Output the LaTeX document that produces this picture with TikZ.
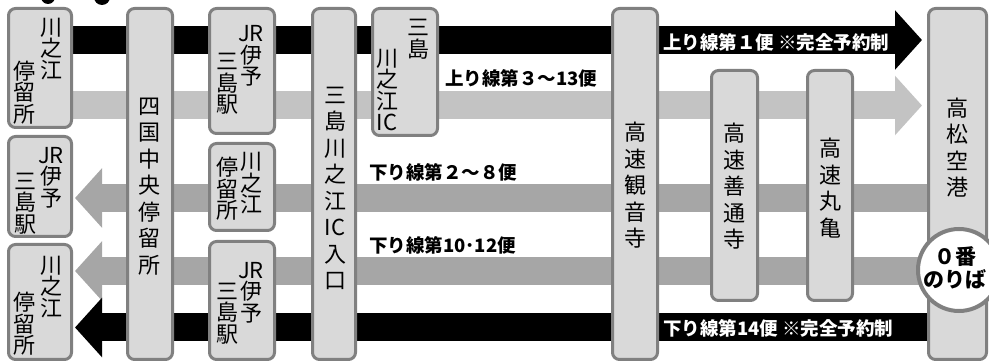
\documentclass[tikz,border=0pt]{standalone}
\usepackage{fontspec}
\newfontfamily\jp{Noto Sans CJK JP}
\usetikzlibrary{arrows.meta,backgrounds}
\definecolor{boxfill}{HTML}{D9D9D9}
\definecolor{boxline}{HTML}{808080}
\definecolor{lightband}{HTML}{C3C3C3}
\definecolor{darkband}{HTML}{A6A6A6}
\tikzset{
  stop/.style={draw=boxline, fill=boxfill, line width=3pt, rounded corners=7pt, inner sep=0pt},
  tate/.style={inner sep=0pt, align=center, font=\jp\fontsize{22}{21.5}\selectfont},
  tatewide/.style={inner sep=0pt, align=center, font=\jp\fontsize{22}{26.5}\selectfont},
  band/.style={line width=28pt, -{Triangle[length=27pt,width=58pt]}},
  lab/.style={inner sep=0pt, anchor=west, font=\jp\bfseries\fontsize{18.5}{18.5}\selectfont},
}
\begin{document}
\begin{tikzpicture}[x=1pt,y=-1pt]
   \useasboundingbox (0,0) rectangle (989,363);
   % cut off by the top edge
   \fill (48,-3) circle (7pt);
   \fill (102,-3) circle (8pt);

   % stops
   \node[stop, minimum width=63, minimum height=119] (kawanoeA) at (40,68) {};
   \node[stop, minimum width=63, minimum height=100] (mishimaA) at (40,186.5) {};
   \node[stop, minimum width=63, minimum height=115] (kawanoeB) at (40,302) {};
   \node[stop, minimum width=45, minimum height=351] (shikoku) at (150,184) {};
   \node[stop, minimum width=65, minimum height=125] (mishimaB) at (242,71) {};
   \node[stop, minimum width=65, minimum height=87] (kawanoeC) at (242,187) {};
   \node[stop, minimum width=65, minimum height=118] (mishimaC) at (242,300.5) {};
   \node[stop, minimum width=43, minimum height=351] (iriguchi) at (334,184) {};
   \node[stop, minimum width=65, minimum height=127] (mishimaIC) at (405,72) {};
   \node[stop, minimum width=45, minimum height=351] (kannonji) at (635,184) {};
   \node[stop, minimum width=46, minimum height=230] (zentsuji) at (734.5,185.5) {};
   \node[stop, minimum width=45, minimum height=230] (marugame) at (830,185.5) {};
   \node[stop, minimum width=58, minimum height=351] (airport) at (957.5,184) {};

   \node[tate] (kawanoeAr) at (51,49) {川\\之\\江};
   \node[tate] (kawanoeAl) at (24,92.5) {停\\留\\所};
   \node[tate] (mishimaAr) at (51,177.5) {JR\\伊\\予};
   \node[tate] (mishimaAl) at (25,203.5) {三\\島\\駅};
   \node[tate] (kawanoeBr) at (52,287) {川\\之\\江};
   \node[tate] (kawanoeBl) at (24,324) {停\\留\\所};
   \node[tatewide] (shikokut) at (149,186.5) {四\\国\\中\\央\\停\\留\\所};
   \node[tate] (mishimaBr) at (251,56) {JR\\伊\\予};
   \node[tate] (mishimaBl) at (227,84) {三\\島\\駅};
   \node[tate] (kawanoeCr) at (251,183.5) {川\\之\\江};
   \node[tate] (kawanoeCl) at (227,189) {停\\留\\所};
   \node[tate] (mishimaCr) at (251,292.5) {JR\\伊\\予};
   \node[tate] (mishimaCl) at (227,313.5) {三\\島\\駅};
   \node[tatewide] (iriguchit) at (335,188.5) {三\\島\\川\\之\\江\\IC\\入\\口};
   \node[tate] (mishimaICr) at (418,39) {三\\島};
   \node[tate] (mishimaICl) at (387,90) {川\\之\\江\\IC};
   \node[tatewide] (kannonjit) at (635,185.5) {高\\速\\観\\音\\寺};
   \node[tatewide] (zentsujit) at (734.5,186.5) {高\\速\\善\\通\\寺};
   \node[tatewide] (marugamet) at (830,188) {高\\速\\丸\\亀};
   \node[tatewide] (airportt) at (957,147.5) {高\\松\\空\\港};

   \node[circle, draw=boxline, line width=4pt, fill=white, minimum size=82, inner sep=0pt] (noriba) at (959,270) {};
   \node[inner sep=0pt, align=center, font=\jp\bfseries\fontsize{21}{22.5}\selectfont] (noribat) at (955,268) {０番\\のりば};

   % routes
   \coordinate (upA) at (922,40);
   \coordinate (upB) at (922,105.5);
   \coordinate (downA) at (75,198);
   \coordinate (downB) at (75,271);
   \coordinate (downC) at (75,327.5);
   \begin{scope}[on background layer]
   \draw[band, black] (kawanoeA |- upA) -- (upA);
   \draw[band, lightband] (kawanoeA |- upB) -- (upB);
   \draw[band, darkband] (airport |- downA) -- (downA);
   \draw[band, darkband] (noriba |- downB) -- (downB);
   \draw[band, black] (airport |- downC) -- (downC);
   \end{scope}

   \node[lab, text=white] (firstup) at (663,42) {上り線第１便 ※完全予約制};
   \node[lab] (upnormal) at (445,78) {上り線第３～13便};
   \node[lab] (downnormal) at (369,172) {下り線第２～８便};
   \node[lab] (downlate) at (369,245) {下り線第10･12便};
   \node[lab, text=white] (lastdown) at (663,328) {下り線第14便 ※完全予約制};
\end{tikzpicture}
\end{document}
